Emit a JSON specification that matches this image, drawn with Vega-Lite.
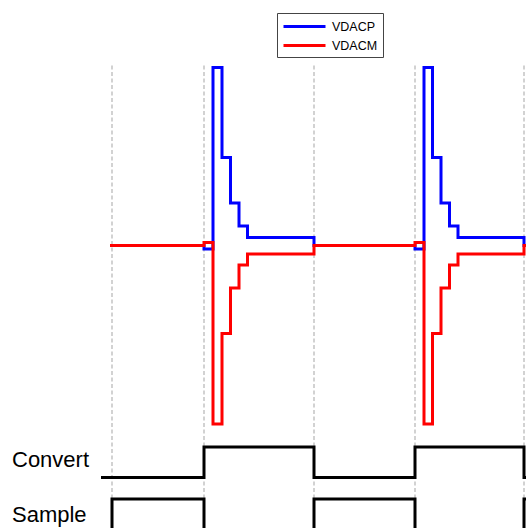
{
  "$schema": "https://vega.github.io/schema/vega-lite/v6.json",
  "width": 526,
  "height": 528,
  "autosize": {"type": "fit", "contains": "padding"},
  "padding": 0,
  "background": "white",
  "config": {"view": {"stroke": null}, "font": "Liberation Sans"},
  "datasets": {
    "grid": [{"t": 112}, {"t": 204}, {"t": 314}, {"t": 415}, {"t": 524}],
    "vdacp": [
      {"t": 110, "v": 0, "s": "VDACP"}, {"t": 204, "v": -3.5, "s": "VDACP"}, {"t": 213, "v": 178, "s": "VDACP"},
      {"t": 222, "v": 88, "s": "VDACP"}, {"t": 230.5, "v": 42.5, "s": "VDACP"}, {"t": 239, "v": 19.5, "s": "VDACP"},
      {"t": 247.5, "v": 8, "s": "VDACP"}, {"t": 314, "v": 0, "s": "VDACP"}, {"t": 415, "v": -3.5, "s": "VDACP"},
      {"t": 424, "v": 178, "s": "VDACP"}, {"t": 432.5, "v": 88, "s": "VDACP"}, {"t": 441, "v": 42.5, "s": "VDACP"},
      {"t": 449.5, "v": 19.5, "s": "VDACP"}, {"t": 458, "v": 8, "s": "VDACP"}, {"t": 524, "v": 0, "s": "VDACP"},
      {"t": 527, "v": 0, "s": "VDACP"}
    ],
    "vdacm": [
      {"t": 110, "v": 0, "s": "VDACM"}, {"t": 204, "v": 3, "s": "VDACM"}, {"t": 213, "v": -178.5, "s": "VDACM"},
      {"t": 222, "v": -88, "s": "VDACM"}, {"t": 230.5, "v": -42.5, "s": "VDACM"}, {"t": 239, "v": -19.5, "s": "VDACM"},
      {"t": 247.5, "v": -8.5, "s": "VDACM"}, {"t": 314, "v": 0, "s": "VDACM"}, {"t": 415, "v": 3, "s": "VDACM"},
      {"t": 424, "v": -178.5, "s": "VDACM"}, {"t": 432.5, "v": -88, "s": "VDACM"}, {"t": 441, "v": -42.5, "s": "VDACM"},
      {"t": 449.5, "v": -19.5, "s": "VDACM"}, {"t": 458, "v": -8.5, "s": "VDACM"}, {"t": 524, "v": 0, "s": "VDACM"},
      {"t": 527, "v": 0, "s": "VDACM"}
    ],
    "convert": [
      {"t": 101, "v": -232}, {"t": 204, "v": -201.5}, {"t": 314, "v": -232}, {"t": 415, "v": -201.5},
      {"t": 524, "v": -232}, {"t": 527, "v": -232}
    ],
    "sample": [
      {"t": 112, "v": -300}, {"t": 112, "v": -253.5}, {"t": 204, "v": -300}, {"t": 314, "v": -253.5},
      {"t": 415, "v": -300}, {"t": 524, "v": -253.5}, {"t": 527, "v": -253.5}
    ],
    "labels": [
      {"t": 12, "v": -221.2, "label": "Convert"},
      {"t": 12, "v": -276.5, "label": "Sample"}
    ]
  },
  "layer": [
    {
      "data": {"name": "grid"},
      "mark": {"type": "rule", "stroke": "#d2d2d2", "strokeWidth": 2, "strokeDash": [4, 2.5], "clip": true},
      "encoding": {
        "x": {"field": "t", "type": "quantitative", "scale": {"domain": [0, 526], "nice": false, "zero": false}, "axis": null},
        "y": {"datum": 180, "type": "quantitative", "scale": {"domain": [-282.5, 245.5], "nice": false, "zero": false}, "axis": null},
        "y2": {"datum": -290}
      }
    },
    {
      "data": {"name": "vdacp"},
      "mark": {"type": "line", "interpolate": "step-after", "strokeWidth": 3, "clip": true},
      "encoding": {
        "x": {"field": "t", "type": "quantitative"},
        "y": {"field": "v", "type": "quantitative"},
        "color": {
          "field": "s", "type": "nominal",
          "scale": {"domain": ["VDACP", "VDACM"], "range": ["#0000ff", "#ff0000"]},
          "legend": {
            "title": null, "orient": "none", "legendX": 277, "legendY": 13,
            "symbolType": "M-1,0H5", "symbolSize": 196, "symbolStrokeWidth": 3, "symbolFillColor": "transparent",
            "labelFont": "Liberation Sans", "labelFontSize": 12.5, "labelColor": "black", "labelOffset": 33,
            "padding": 5, "rowPadding": 4, "strokeColor": "#444", "fillColor": "white", "cornerRadius": 0
          }
        }
      }
    },
    {
      "data": {"name": "vdacm"},
      "mark": {"type": "line", "interpolate": "step-after", "strokeWidth": 3, "clip": true},
      "encoding": {
        "x": {"field": "t", "type": "quantitative"},
        "y": {"field": "v", "type": "quantitative"},
        "color": {"field": "s", "type": "nominal"}
      }
    },
    {
      "data": {"name": "convert"},
      "mark": {"type": "line", "interpolate": "step-after", "strokeWidth": 3, "color": "black", "clip": true},
      "encoding": {
        "x": {"field": "t", "type": "quantitative"},
        "y": {"field": "v", "type": "quantitative"}
      }
    },
    {
      "data": {"name": "sample"},
      "mark": {"type": "line", "interpolate": "step-after", "strokeWidth": 3, "color": "black", "clip": true},
      "encoding": {
        "x": {"field": "t", "type": "quantitative"},
        "y": {"field": "v", "type": "quantitative"}
      }
    },
    {
      "data": {"name": "labels"},
      "mark": {"type": "text", "align": "left", "baseline": "alphabetic", "fontSize": 22, "font": "Liberation Sans", "color": "black"},
      "encoding": {
        "x": {"field": "t", "type": "quantitative"},
        "y": {"field": "v", "type": "quantitative"},
        "text": {"field": "label"}
      }
    }
  ]
}
